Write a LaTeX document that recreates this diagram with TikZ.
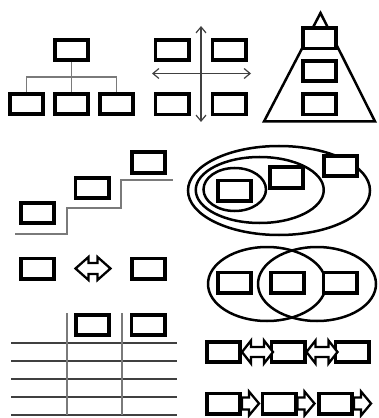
\documentclass[tikz,border=0pt]{standalone}
\usepackage{tikz}
\usetikzlibrary{arrows.meta, calc}
\definecolor{linkgray}{HTML}{7A7A7A}
\definecolor{rulegray}{HTML}{404040}

\tikzset{
  box/.style={draw, line width=1.9mm, fill=white, minimum width=16.6mm, minimum height=10.1mm, inner sep=0pt},
  link/.style={draw=linkgray, line width=0.55mm},
  ring/.style={line width=1.25mm},
  axisline/.style={draw=rulegray, line width=0.6mm, {Straight Barb[length=3mm, width=5mm]}-{Straight Barb[length=3mm, width=5mm]}},
  arrowshape/.style={draw, fill=white, line width=1.15mm},
  % double block arrow: length, head half height, shaft half height, head length
  pics/dblarrow/.style n args={4}{code={
    \draw[arrowshape] (0,0) -- (#4,-#2) -- (#4,-#3) -- (#1-#4,-#3) -- (#1-#4,-#2) -- (#1,0)
      -- (#1-#4,#2) -- (#1-#4,#3) -- (#4,#3) -- (#4,#2) -- cycle;
  }},
  % single block arrow pointing right
  pics/rarrow/.style n args={4}{code={
    \draw[arrowshape] (0,-#3) -- (#1-#4,-#3) -- (#1-#4,-#2) -- (#1,0)
      -- (#1-#4,#2) -- (#1-#4,#3) -- (0,#3) -- cycle;
  }}
}

\begin{document}
\begin{tikzpicture}[x=0.5mm, y=-0.5mm]
  \useasboundingbox (0,0) rectangle (378,418);

  % Hierarchy
  \node[box] (top) at (71.5,50) {};
  \foreach \n/\x in {1/26.5, 2/71.5, 3/116.5}
    \node[box] (sub\n) at (\x,104) {};
  \coordinate (bus) at (71.5,77);
  \draw[link] (top) -- (bus);
  \foreach \n in {1,2,3}
    \draw[link] (bus) -| (sub\n);

  % Quadrants
  \node[box] (q1) at (172,50) {};
  \node[box] (q2) at (229,50) {};
  \node[box] (q3) at (172,104.5) {};
  \node[box] (q4) at (229,104.5) {};
  \draw[axisline] (201,26) -- (201,122);
  \draw[axisline] (152,73.5) -- (251,73.5);

  % Pyramid
  \draw[ring, line join=miter] (320.5,13) -- (375,121.5) -- (264,121.5) -- cycle;
  \node[box] (p1) at (319.5,38.5) {};
  \node[box] (p2) at (319.5,71) {};
  \node[box] (p3) at (319.5,104.5) {};

  % Steps
  \draw[link] (15,234) -- (67,234) -- (67,208) -- (121,208) -- (121,180) -- (173,180);
  \node[box] (s1) at (37.5,213) {};
  \node[box] (s2) at (92,188) {};
  \node[box] (s3) at (148.5,162.5) {};

  % Nested
  \draw[ring] (279,190.5) ellipse [x radius=91, y radius=44.5];
  \draw[ring] (259.75,190) ellipse [x radius=64, y radius=33];
  \draw[ring] (234.75,189.5) ellipse [x radius=31.25, y radius=21.5];
  \node[box] (n1) at (234.5,190.5) {};
  \node[box] (n2) at (286.5,177.5) {};
  \node[box] (n3) at (340.5,166) {};

  % Compare
  \node[box] (cmpL) at (37.5,268.5) {};
  \node[box] (cmpR) at (148.5,268.5) {};
  \pic at (75.5,268.5) {dblarrow={35}{11.5}{5.5}{13}};

  % Overlap
  \draw[ring] (267,284) ellipse [x radius=59, y radius=37];
  \draw[ring] (317,284) ellipse [x radius=59, y radius=37];
  \node[box] (v1) at (234.5,282.5) {};
  \node[box] (v2) at (287.5,282.5) {};
  \node[box] (v3) at (340,282.5) {};

  % Table
  \foreach \y in {343,361,379,397,415}
    \draw[draw=rulegray, line width=0.65mm] (11,\y) -- (177,\y);
  \foreach \x in {67,122}
    \draw[link, line width=0.65mm] (\x,313) -- (\x,415);
  \node[box] (t1) at (92.5,325) {};
  \node[box] (t2) at (148,325) {};

  % Cycle chain
  \node[box] (c1) at (223.5,352) {};
  \node[box] (c2) at (288,352) {};
  \node[box] (c3) at (352,352) {};
  \pic at (c1.east) {dblarrow={31}{11.5}{5}{9}};
  \pic at (c2.east) {dblarrow={31}{11.5}{5}{9}};

  % Process chain
  \node[box] (f1) at (223.5,403.5) {};
  \node[box] (f2) at (279,403.5) {};
  \node[box] (f3) at (335.5,403.5) {};
  \pic at (f1.east) {rarrow={17}{12}{6}{10}};
  \pic at (f2.east) {rarrow={17}{12}{6}{10}};
  \pic at (f3.east) {rarrow={17}{12}{6}{10}};
\end{tikzpicture}
\end{document}
